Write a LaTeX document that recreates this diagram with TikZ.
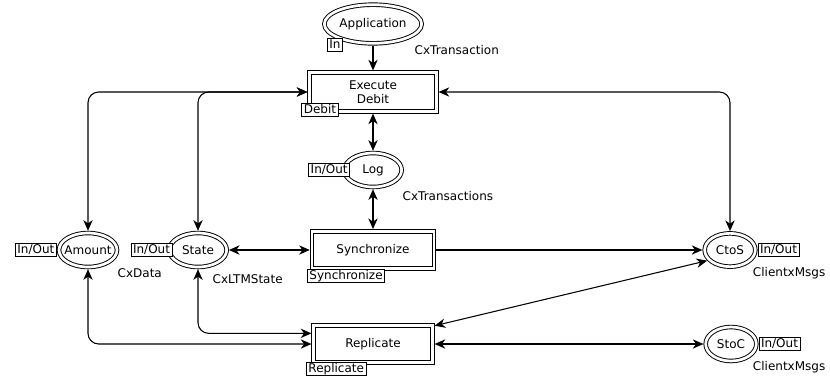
\documentclass[tikz,border=0pt]{standalone}
\usepackage{fontspec}
\setmainfont{DejaVu Sans}
\usetikzlibrary{shapes,arrows.meta,positioning}

\begin{document}
\begin{tikzpicture}[
    x=0.75pt, y=-0.75pt,
    font=\fontsize{9}{10.5}\selectfont,
    >={Stealth[length=8pt,width=7pt,inset=2.5pt]},
    place/.style={ellipse, draw, double, double distance=2pt, line width=0.7pt, fill=white, inner xsep=-6pt, inner ysep=-4pt, outer sep=1.7pt, minimum width=43pt, minimum height=25.5pt},
    trans/.style={rectangle, draw, double, double distance=2pt, line width=0.7pt, fill=white, minimum width=91pt, minimum height=28pt, outer sep=1.7pt, align=center},
    tag/.style={rectangle, draw, line width=0.6pt, fill=white, inner xsep=1.5pt, inner ysep=0.8pt, text height=6.8pt, text depth=1.3pt},
    colset/.style={anchor=west},
    arc/.style={line width=0.8pt}
]
    \useasboundingbox (0,0) rectangle (830,376);

    % Places
    \node[place, minimum width=73pt, minimum height=29pt] (app) at (373,24) {Application};
    \node[place] (log) at (373,170) {Log};
    \node[place, minimum width=43.5pt] (amount) at (88,250) {Amount};
    \node[place] (state) at (198,250) {State};
    \node[place, minimum width=38pt, minimum height=25pt] (ctos) at (730,250) {CtoS};
    \node[place, minimum width=38pt] (stoc) at (731,344) {StoC};

    % Transitions
    \node[trans, minimum width=95pt, minimum height=29pt] (exec) at (373,92) {Execute\\Debit};
    \node[trans, minimum width=91.5pt] (sync) at (373,250) {Synchronize};
    \node[trans, minimum width=89pt] (repl) at (373,344) {Replicate};

    % Port tags
    \node[tag, below left=-1pt and -4.5pt of app.south west] (appin) {In};
    \node[tag, left=-6pt of log] (logio) {In/Out};
    \node[tag, left=0pt of amount] (amountio) {In/Out};
    \node[tag, left=-4pt of state] (stateio) {In/Out};
    \node[tag, right=0pt of ctos] (ctosio) {In/Out};
    \node[tag, right=0pt of stoc] (stocio) {In/Out};

    % Substitution tags
    \node[tag, below right=-8pt and -4.5pt of exec.south west] (execsub) {Debit};
    \node[tag, below right=-1.3pt and -2pt of sync.south west] (syncsub) {Synchronize};
    \node[tag, below right=-2pt and -4pt of repl.south west] (replsub) {Replicate};

    % Colour sets
    \node[colset] (appcs) at (410,50) {CxTransaction};
    \node[colset] (logcs) at (398,196) {CxTransactions};
    \node[colset] (amountcs) at (113,273) {CxData};
    \node[colset] (statecs) at (208,279) {CxLTMState};
    \node[colset, anchor=east] (ctoscs) at (830,273) {ClientxMsgs};
    \node[colset, anchor=east] (stoccs) at (830,367) {ClientxMsgs};

    % Arcs
    \draw[arc, ->] (app) -- (exec);
    \draw[arc, <->] (exec) -- (log);
    \draw[arc, <->] (log) -- (sync);
    \draw[arc, <->, rounded corners=8pt] (exec.west) -| (amount.north);
    \draw[arc, <->, rounded corners=8pt] (exec.west) -| (state.north);
    \draw[arc, <->, rounded corners=8pt] (exec.east) -| (ctos.north);
    \draw[arc, <->] (state) -- (sync);
    \draw[arc, ->] (sync) -- (ctos);
    \draw[arc, <->] ([yshift=-2pt]repl.north east) -- (ctos.205);
    \draw[arc, <->] (repl) -- (stoc);
    \draw[arc, <->, rounded corners=8pt] (amount.south) |- (repl.west);
    \draw[arc, <->, rounded corners=8pt] (state.south) |- ([yshift=8pt]repl.west);
\end{tikzpicture}
\end{document}
